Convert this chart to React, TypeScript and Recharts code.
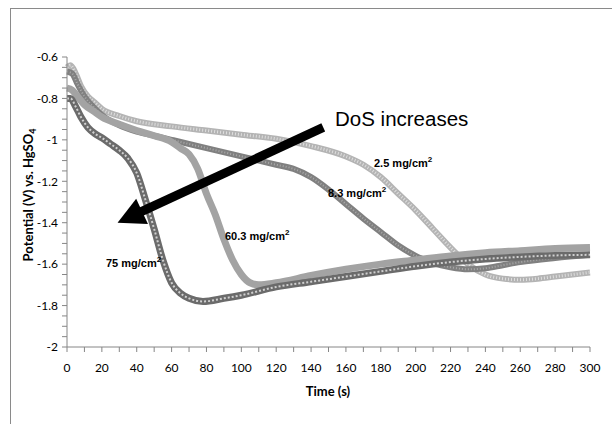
import React from "react";
import { LineChart, Line, XAxis, YAxis, ReferenceLine } from "recharts";

// time (s) and potential (V vs HgSO4) for each loading
const t25 = [0, 2, 5, 8, 12, 16, 20, 30, 40, 60, 80, 100, 120, 140, 160, 170, 180, 190, 200, 210, 220, 230, 240, 250, 260, 270, 280, 290, 300];
const v25 = [-0.65, -0.64, -0.68, -0.74, -0.79, -0.82, -0.85, -0.885, -0.91, -0.935, -0.955, -0.975, -0.995, -1.03, -1.08, -1.12, -1.18, -1.26, -1.34, -1.43, -1.52, -1.6, -1.65, -1.67, -1.675, -1.67, -1.66, -1.65, -1.64];

const t83 = [0, 3, 6, 10, 15, 20, 30, 40, 50, 60, 80, 100, 110, 120, 130, 140, 150, 160, 170, 180, 190, 200, 210, 220, 230, 240, 250, 260, 280, 300];
const v83 = [-0.67, -0.68, -0.73, -0.79, -0.84, -0.88, -0.93, -0.96, -0.98, -1.0, -1.04, -1.08, -1.1, -1.12, -1.14, -1.18, -1.24, -1.31, -1.38, -1.445, -1.51, -1.56, -1.595, -1.615, -1.625, -1.62, -1.605, -1.59, -1.57, -1.555];

const t603 = [0, 3, 6, 10, 15, 20, 30, 40, 50, 60, 65, 70, 75, 80, 85, 90, 95, 100, 105, 110, 120, 140, 160, 180, 200, 220, 240, 260, 280, 300];
const v603 = [-0.75, -0.76, -0.79, -0.83, -0.86, -0.89, -0.925, -0.955, -0.98, -1.01, -1.04, -1.07, -1.14, -1.26, -1.36, -1.48, -1.58, -1.65, -1.69, -1.7, -1.69, -1.655, -1.625, -1.6, -1.58, -1.56, -1.545, -1.535, -1.525, -1.52];

const t75 = [0, 2, 5, 8, 12, 16, 20, 25, 30, 35, 40, 45, 50, 55, 60, 65, 70, 78, 90, 100, 120, 140, 160, 180, 200, 220, 240, 260, 280, 300];
const v75 = [-0.8, -0.8, -0.84, -0.89, -0.94, -0.97, -0.99, -1.02, -1.05, -1.09, -1.16, -1.29, -1.43, -1.58, -1.69, -1.74, -1.765, -1.78, -1.765, -1.75, -1.71, -1.685, -1.66, -1.635, -1.61, -1.59, -1.575, -1.565, -1.558, -1.555];

const yLabels = ["-0.6", "-0.8", "-1", "-1.2", "-1.4", "-1.6", "-1.8", "-2"];
const xLabels = ["0", "20", "40", "60", "80", "100", "120", "140", "160", "180", "200", "220", "240", "260", "280", "300"];

// "DoS increases" arrow, in data units (start -> tip)
const arrowFrom = { x: 147, y: -0.94 };
const arrowTo = { x: 29, y: -1.4 };

const toRows = (ts: number[], vs: number[]) => ts.map((t, i) => ({ t, v: vs[i] }));
const s25 = toRows(t25, v25);
const s83 = toRows(t83, v83);
const s603 = toRows(t603, v603);
const s75 = toRows(t75, v75);

// minor ticks every 0.05 V and every 10 s, only the labelled ones get text
const yTicks: number[] = [];
for (let k = 0; k <= 28; k++) yTicks.push(Number((-2 + k * 0.05).toFixed(2)));
const xTicks: number[] = [];
for (let k = 0; k <= 30; k++) xTicks.push(k * 10);

const yFmt = (v: number) => yLabels.find((l) => Math.abs(Number(l) - v) < 1e-6) ?? "";
const xFmt = (v: number) => xLabels.find((l) => Number(l) === v) ?? "";

const tickFont = { fill: "#000", fontSize: 12, fontFamily: "Lato" };

function Arrow(props: any) {
  const { x1, y1, x2, y2 } = props;
  const dx = x2 - x1;
  const dy = y2 - y1;
  const len = Math.hypot(dx, dy);
  const ux = dx / len;
  const uy = dy / len;
  const head = 27;
  const half = 14;
  const bx = x2 - ux * head;
  const by = y2 - uy * head;
  return (
    <g>
      <line x1={x1} y1={y1} x2={bx + ux * 2} y2={by + uy * 2} stroke="#000" strokeWidth={9} />
      <polygon
        points={`${x2},${y2} ${bx - uy * half},${by + ux * half} ${bx + uy * half},${by - ux * half}`}
        fill="#000"
      />
    </g>
  );
}

function Loading({ x, y, n }: { x: number; y: number; n: string }) {
  return (
    <text x={x} y={y} fontFamily="Liberation Sans" fontWeight="bold" fontSize={11} fill="#000">
      {n} mg/cm
      <tspan dy={-5} fontSize={8}>2</tspan>
    </text>
  );
}

export default function App() {
  return (
    <div style={{ position: "absolute", left: 0, top: 0, width: 612, height: 426, background: "#fff" }}>
      <div
        style={{
          position: "absolute",
          left: 10,
          top: 8,
          width: 610,
          height: 415,
          borderLeft: "1px solid #8a8a8a",
          borderTop: "1px solid #8a8a8a",
        }}
      />
      <LineChart
        width={612}
        height={426}
        margin={{ top: 57, right: 22, bottom: 49, left: 0 }}
        style={{ position: "absolute", left: 0, top: 0 }}
      >
        <XAxis
          dataKey="t"
          type="number"
          domain={[0, 300]}
          ticks={xTicks}
          interval={0}
          tickFormatter={xFmt}
          height={30}
          tickSize={5}
          tickMargin={11}
          stroke="#868686"
          tick={tickFont}
          allowDuplicatedCategory={false}
        />
        <YAxis
          type="number"
          domain={[-2, -0.6]}
          ticks={yTicks}
          interval={0}
          tickFormatter={yFmt}
          width={67}
          tickSize={5}
          tickMargin={4}
          stroke="#868686"
          tick={tickFont}
        />
        <Line data={s25} dataKey="v" type="monotone" stroke="#b4b4b4" strokeWidth={6} dot={false} isAnimationActive={false} />
        <Line data={s25} dataKey="v" type="monotone" stroke="#dedede" strokeWidth={3} strokeDasharray="1 2" dot={false} isAnimationActive={false} />
        <Line data={s83} dataKey="v" type="monotone" stroke="#808080" strokeWidth={6} dot={false} isAnimationActive={false} />
        <Line data={s83} dataKey="v" type="monotone" stroke="#a8a8a8" strokeWidth={2} strokeDasharray="1 2" dot={false} isAnimationActive={false} />
        <Line data={s603} dataKey="v" type="monotone" stroke="#a3a3a3" strokeWidth={7} dot={false} isAnimationActive={false} />
        <Line data={s75} dataKey="v" type="monotone" stroke="#6b6b6b" strokeWidth={7} dot={false} isAnimationActive={false} />
        <Line data={s75} dataKey="v" type="monotone" stroke="#d0d0d0" strokeWidth={2} strokeDasharray="2 2" dot={false} isAnimationActive={false} />
        <ReferenceLine segment={[arrowFrom, arrowTo]} shape={Arrow} ifOverflow="visible" />
      </LineChart>
      <svg width={612} height={426} style={{ position: "absolute", left: 0, top: 0, pointerEvents: "none" }}>
        <text x={335} y={126} fontFamily="Liberation Sans" fontSize={20.5} fill="#000">
          DoS increases
        </text>
        <Loading x={374} y={167} n="2.5" />
        <Loading x={328} y={197} n="8.3" />
        <Loading x={225} y={240} n="60.3" />
        <Loading x={106} y={267} n="75" />
        <text
          transform="translate(33,195) rotate(-90)"
          textAnchor="middle"
          fontFamily="Lato"
          fontWeight="bold"
          fontSize={13}
          fill="#000"
        >
          Potential (V) vs. HgSO
          <tspan dy={3} fontSize={9}>4</tspan>
        </text>
        <text x={328} y={396} textAnchor="middle" fontFamily="Lato" fontWeight="bold" fontSize={13} fill="#000">
          Time (s)
        </text>
      </svg>
    </div>
  );
}
